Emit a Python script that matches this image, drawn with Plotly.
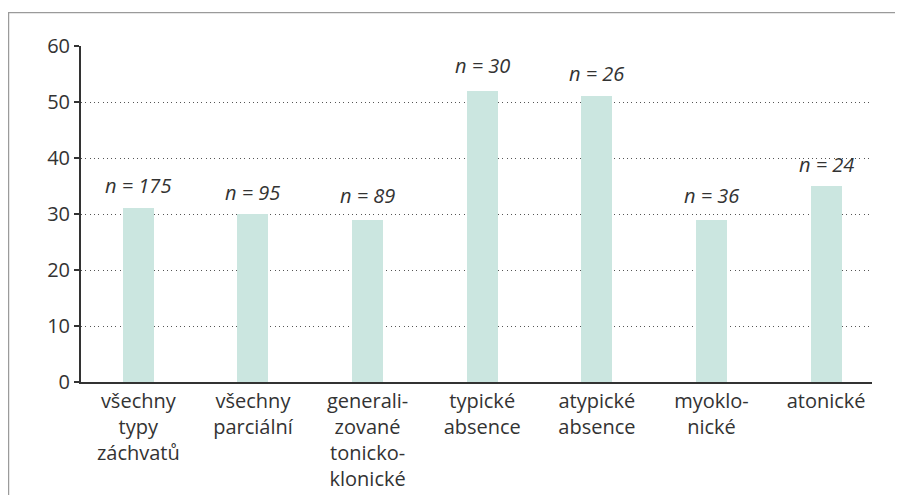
import plotly.graph_objects as go

categories = [
    "všechny<br>typy<br>záchvatů",
    "všechny<br>parciální",
    "generali-<br>zované<br>tonicko-<br>klonické",
    "typické<br>absence",
    "atypické<br>absence",
    "myoklo-<br>nické",
    "atonické",
]
values = [31, 30, 29, 52, 51, 29, 35]
n_counts = [175, 95, 89, 30, 26, 36, 24]
label_heights = [35.1, 33.9, 33.3, 56.6, 55.1, 33.3, 38.9]
y_ticks = [0, 10, 20, 30, 40, 50, 60]

FONT = "Open Sans"
TEXT = "#333333"

x_idx = list(range(len(categories)))

fig = go.Figure()
fig.add_trace(go.Bar(
    x=x_idx, y=values, width=0.27,
    marker=dict(color="#cbe6e0", line=dict(width=0)),
    hoverinfo="skip",
))

for i, (n, h) in enumerate(zip(n_counts, label_heights)):
    fig.add_annotation(
        x=i, y=h, xref="x", yref="y",
        text=f"<i>n = {n}</i>", showarrow=False,
        font=dict(family=FONT, size=20, color=TEXT),
        xanchor="center", yanchor="middle",
    )

# outer frame (top and left edges visible)
fig.add_shape(type="rect", xref="paper", yref="paper",
              x0=-0.0915, x1=1.06, y0=-0.5, y1=1.0994,
              line=dict(color="#9a9a9a", width=1.2), fillcolor="rgba(0,0,0,0)",
              layer="below")

fig.update_layout(
    width=887, height=487, autosize=False,
    margin=dict(l=73, r=23, t=38, b=113, pad=0),
    plot_bgcolor="white", paper_bgcolor="white",
    showlegend=False,
    font=dict(family=FONT, size=20, color=TEXT),
    bargap=0,
)
fig.update_xaxes(
    range=[-0.5, 6.4], tickmode="array", tickvals=x_idx, ticktext=categories,
    showgrid=False, zeroline=False, showline=True, linecolor="#333333", linewidth=2,
    ticks="", tickfont=dict(family=FONT, size=20, color=TEXT),
    fixedrange=True, automargin=False,
)
fig.update_yaxes(
    range=[0, 60], tickmode="array", tickvals=y_ticks,
    showgrid=True, gridcolor="#555555", gridwidth=1, griddash="1px,3.3px",
    zeroline=False, showline=True, linecolor="#333333", linewidth=2,
    ticks="outside", ticklen=5, tickwidth=1.5, tickcolor="#333333",
    tickfont=dict(family=FONT, size=20, color=TEXT),
    fixedrange=True, automargin=False,
)

fig.write_html("out.html", config={"displayModeBar": False})
